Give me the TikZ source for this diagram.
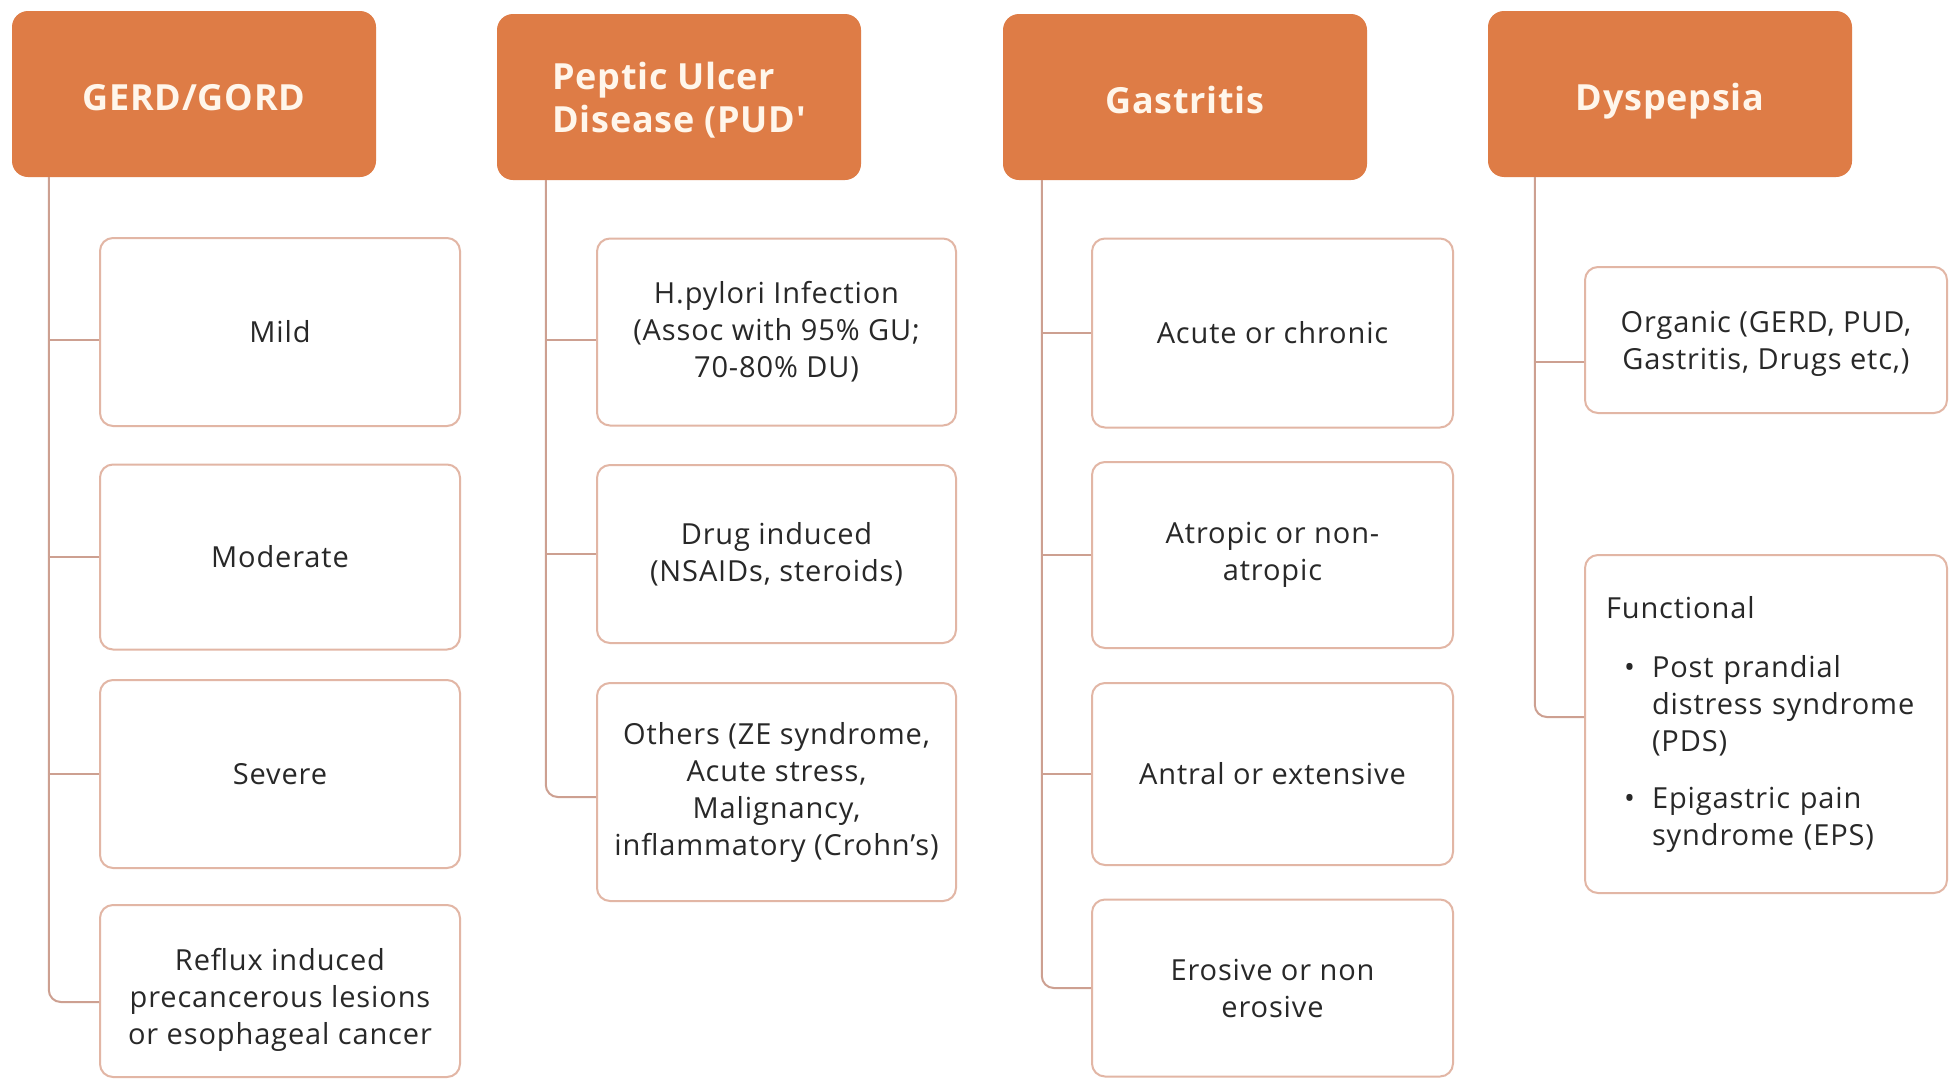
\documentclass[tikz,border=0pt]{standalone}
\usepackage{fontspec}
\setmainfont{Open Sans}[LetterSpace=3]
\newfontfamily\hdrfont{Open Sans}[LetterSpace=2]
\definecolor{hdr}{RGB}{222,124,70}
\definecolor{hdrtext}{RGB}{255,246,235}
\definecolor{bord}{RGB}{226,182,165}
\definecolor{linkc}{RGB}{205,160,145}
\definecolor{txt}{RGB}{40,40,40}
\newcommand{\lowerby}[2]{\raisebox{-#1}[\height][\depth]{#2}}
\begin{document}
\begin{tikzpicture}[x=1pt,y=-1pt,
  header/.style={fill=hdr, rounded corners=16pt, minimum width=364pt, minimum height=166pt,
    text=hdrtext, font=\hdrfont\fontsize{36}{43}\selectfont\bfseries, inner sep=0pt},
  child/.style={draw=bord, line width=2pt, fill=white, rounded corners=13pt,
    text=txt, font=\fontsize{29}{37}\selectfont, align=center, inner sep=0pt},
  link/.style={draw=linkc, line width=2pt},
  ]
\useasboundingbox (0,0) rectangle (1953,1079);
\fill[white] (0,0) rectangle (1953,1079);

% headers
\node[header] (gh) at (194,94) {\lowerby{4pt}{GERD/GORD}};
\node[header] (ph) at (679,97) {\lowerby{5pt}{\begin{tabular}{@{}l@{}}Peptic Ulcer\\Disease (PUD'\end{tabular}}};
\node[header] (sh) at (1185,97) {\lowerby{3pt}{Gastritis}};
\node[header] (dh) at (1670,94) {\lowerby{7pt}{Dyspepsia}};

% trunk coordinates
\coordinate (gt) at ([xshift=37pt]gh.south west);
\coordinate (pt) at ([xshift=49pt]ph.south west);
\coordinate (st) at ([xshift=39pt]sh.south west);
\coordinate (dt) at ([xshift=47pt]dh.south west);

% GERD children
\node[child, minimum width=360pt, minimum height=188pt] (g1) at (280,332) {Mild};
\node[child, minimum width=360pt, minimum height=185pt] (g2) at (280,557) {Moderate};
\node[child, minimum width=360pt, minimum height=188pt] (g3) at (280,774) {Severe};
\node[child, minimum width=360pt, minimum height=172pt] (g4) at (280,991)
  {\lowerby{9pt}{\begin{tabular}{@{}c@{}}Reflux induced\\precancerous lesions\\or esophageal cancer\end{tabular}}};

% PUD children
\node[child, minimum width=359pt, minimum height=187pt] (p1) at (776.5,332) {H.pylori Infection\\(Assoc with 95\% GU;\\70-80\% DU)};
\node[child, minimum width=359pt, minimum height=178pt] (p2) at (776.5,554) {Drug induced\\(NSAIDs, steroids)};
\node[child, minimum width=359pt, minimum height=218pt] (p3) at (776.5,792) {Others (ZE syndrome,\\Acute stress,\\Malignancy,\\inflammatory (Crohn's)};

% Gastritis children
\node[child, minimum width=361pt, minimum height=189pt] (s1) at (1272.5,333) {Acute or chronic};
\node[child, minimum width=361pt, minimum height=186pt] (s2) at (1272.5,555) {Atropic or non-\\atropic};
\node[child, minimum width=361pt, minimum height=182pt] (s3) at (1272.5,774) {Antral or extensive};
\node[child, minimum width=361pt, minimum height=177pt] (s4) at (1272.5,988)
  {\lowerby{4pt}{\begin{tabular}{@{}c@{}}Erosive or non\\erosive\end{tabular}}};

% Dyspepsia children
\node[child, minimum width=362pt, minimum height=146pt] (d1) at (1766,340)
  {\lowerby{4pt}{\begin{tabular}{@{}c@{}}Organic (GERD, PUD,\\Gastritis, Drugs etc,)\end{tabular}}};
\node[child, minimum width=362pt, minimum height=338pt, text width=320pt, align=left] (d2) at (1766,724)
  {Functional\\[22pt]
   \makebox[46pt][l]{\hspace*{18pt}\textbullet}Post prandial\\
   \hspace*{46pt}distress syndrome\\
   \hspace*{46pt}(PDS)\\[20pt]
   \makebox[46pt][l]{\hspace*{18pt}\textbullet}Epigastric pain\\
   \hspace*{46pt}syndrome (EPS)};

% connectors GERD
\draw[link, rounded corners=12pt] (gt) |- ([yshift=-11pt]g4.west);
\draw[link] ([yshift=-8pt]g1.west) -- ([yshift=-8pt]g1.west -| gt);
\draw[link] (g2.west) -- (g2.west -| gt);
\draw[link] (g3.west) -- (g3.west -| gt);

% connectors PUD
\draw[link, rounded corners=12pt] (pt) |- ([yshift=-5pt]p3.west);
\draw[link] ([yshift=-8pt]p1.west) -- ([yshift=-8pt]p1.west -| pt);
\draw[link] (p2.west) -- (p2.west -| pt);

% connectors Gastritis
\draw[link, rounded corners=12pt] (st) |- (s4.west);
\draw[link] (s1.west) -- (s1.west -| st);
\draw[link] (s2.west) -- (s2.west -| st);
\draw[link] (s3.west) -- (s3.west -| st);

% connectors Dyspepsia
\draw[link, rounded corners=12pt] (dt) |- ([yshift=7pt]d2.west);
\draw[link] ([yshift=-22pt]d1.west) -- ([yshift=-22pt]d1.west -| dt);
\end{tikzpicture}
\end{document}
